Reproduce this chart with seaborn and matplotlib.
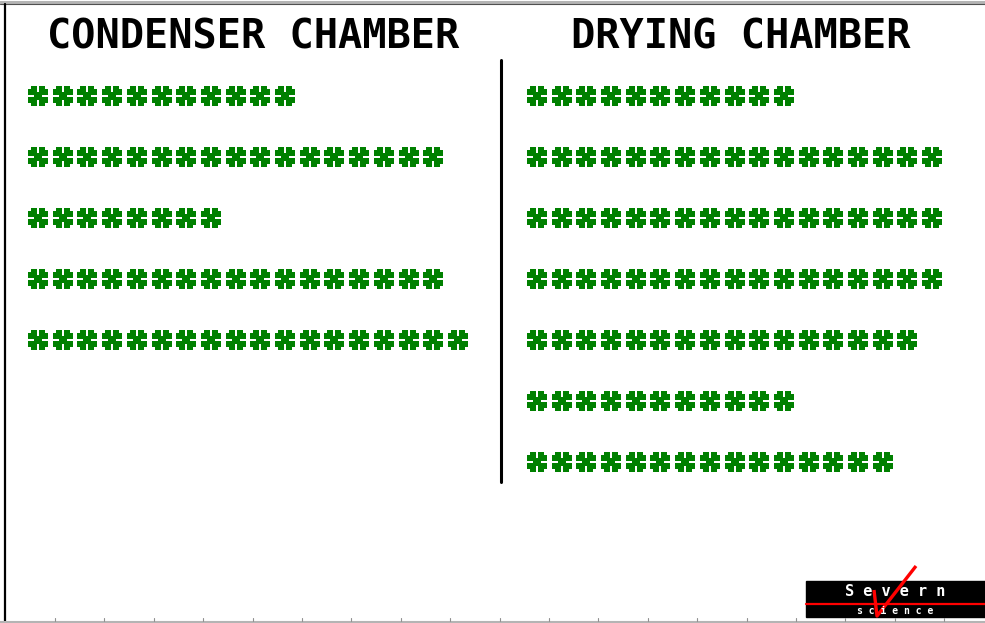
import numpy as np
import pandas as pd
import seaborn as sns
import matplotlib.pyplot as plt
from matplotlib.path import Path
from matplotlib.patches import Rectangle

# Star counts per row in each chamber
condenser_counts = [11, 17, 8, 17, 18]
drying_counts = [11, 17, 17, 17, 16, 11, 15]
panel_titles = ['CONDENSER CHAMBER', 'DRYING CHAMBER']

sns.set_theme(style='white')

# one row per star
rows = []
for panel, counts in [('condenser', condenser_counts), ('drying', drying_counts)]:
    for r, n in enumerate(counts):
        for i in range(n):
            rows.append({'panel': panel, 'row': r, 'slot': i})
df = pd.DataFrame(rows)
# the drying chamber starts 20.2 star widths to the right
df['x'] = df['slot'] + np.where(df['panel'] == 'drying', 20.2, 0.0)

# blocky pixel asterisk as a marker
grid = [".XX.XX.",
        "XXX.XXX",
        "XXXXXXX",
        "..XXX..",
        "XXXXXXX",
        "XXX.XXX",
        ".XX.XX."]
verts, codes = [], []
for r, line in enumerate(grid):
    y0 = 3.5 - r - 1 - 0.03
    y1 = 3.5 - r + 0.03
    c = 0
    while c < len(line):
        if line[c] == 'X':
            start = c
            while c < len(line) and line[c] == 'X':
                c += 1
            x0, x1 = start - 3.5, c - 3.5
            verts += [(x0, y0), (x1, y0), (x1, y1), (x0, y1), (x0, y0)]
            codes += [Path.MOVETO, Path.LINETO, Path.LINETO, Path.LINETO, Path.CLOSEPOLY]
        else:
            c += 1
star = Path(verts, codes)

fig = plt.figure(figsize=(9.85, 6.23), dpi=100)

# screen frame and decorations in pixel coordinates
deco = fig.add_axes([0, 0, 1, 1])
deco.set_xlim(0, 985)
deco.set_ylim(623, 0)
deco.axis('off')
deco.plot([0, 985], [1.5, 1.5], color='#b4b4b4', lw=2.2)
deco.plot([0, 985], [4, 4], color='#505050', lw=0.8)
deco.plot([4.5, 4.5], [4, 623], color='black', lw=1.6)
deco.plot([0, 985], [621.5, 621.5], color='#b4b4b4', lw=1.5)
for tx in np.arange(55, 985, 49.4):
    deco.plot([tx, tx], [618, 621], color='#909090', lw=0.8)
deco.plot([501, 501], [60, 482], color='black', lw=2.2)

# Severn Science logo
deco.add_patch(Rectangle((806, 581), 179, 36, color='black'))
deco.text(895, 591, 'S e v e r n', color='white', ha='center', va='center',
          fontsize=11, family='DejaVu Sans Mono', fontweight='bold')
deco.plot([806, 985], [603.5, 603.5], color='red', lw=1.6)
deco.text(895, 611, 's c i e n c e', color='white', ha='center', va='center',
          fontsize=7, family='DejaVu Sans Mono', fontweight='bold')
deco.plot([874, 877, 916], [590, 616, 566], color='red', lw=2.4, solid_capstyle='butt')

# titles
for cx, title in zip([253, 741], panel_titles):
    deco.text(cx, 37, title, ha='center', va='center', fontsize=29,
              family='DejaVu Sans Mono', fontweight='bold', color='black')

# stars
ax = fig.add_axes([0, 0, 1, 1])
ax.patch.set_alpha(0)
sns.scatterplot(data=df, x='x', y='row', marker=star, s=205, color='#008000',
                linewidth=0, ax=ax, legend=False)
ax.set_xlim(-38 / 24.7, (985 - 38) / 24.7)
ax.set_ylim((623 - 96) / 61, -96 / 61)
ax.axis('off')

fig.savefig('out.png', dpi=100)
